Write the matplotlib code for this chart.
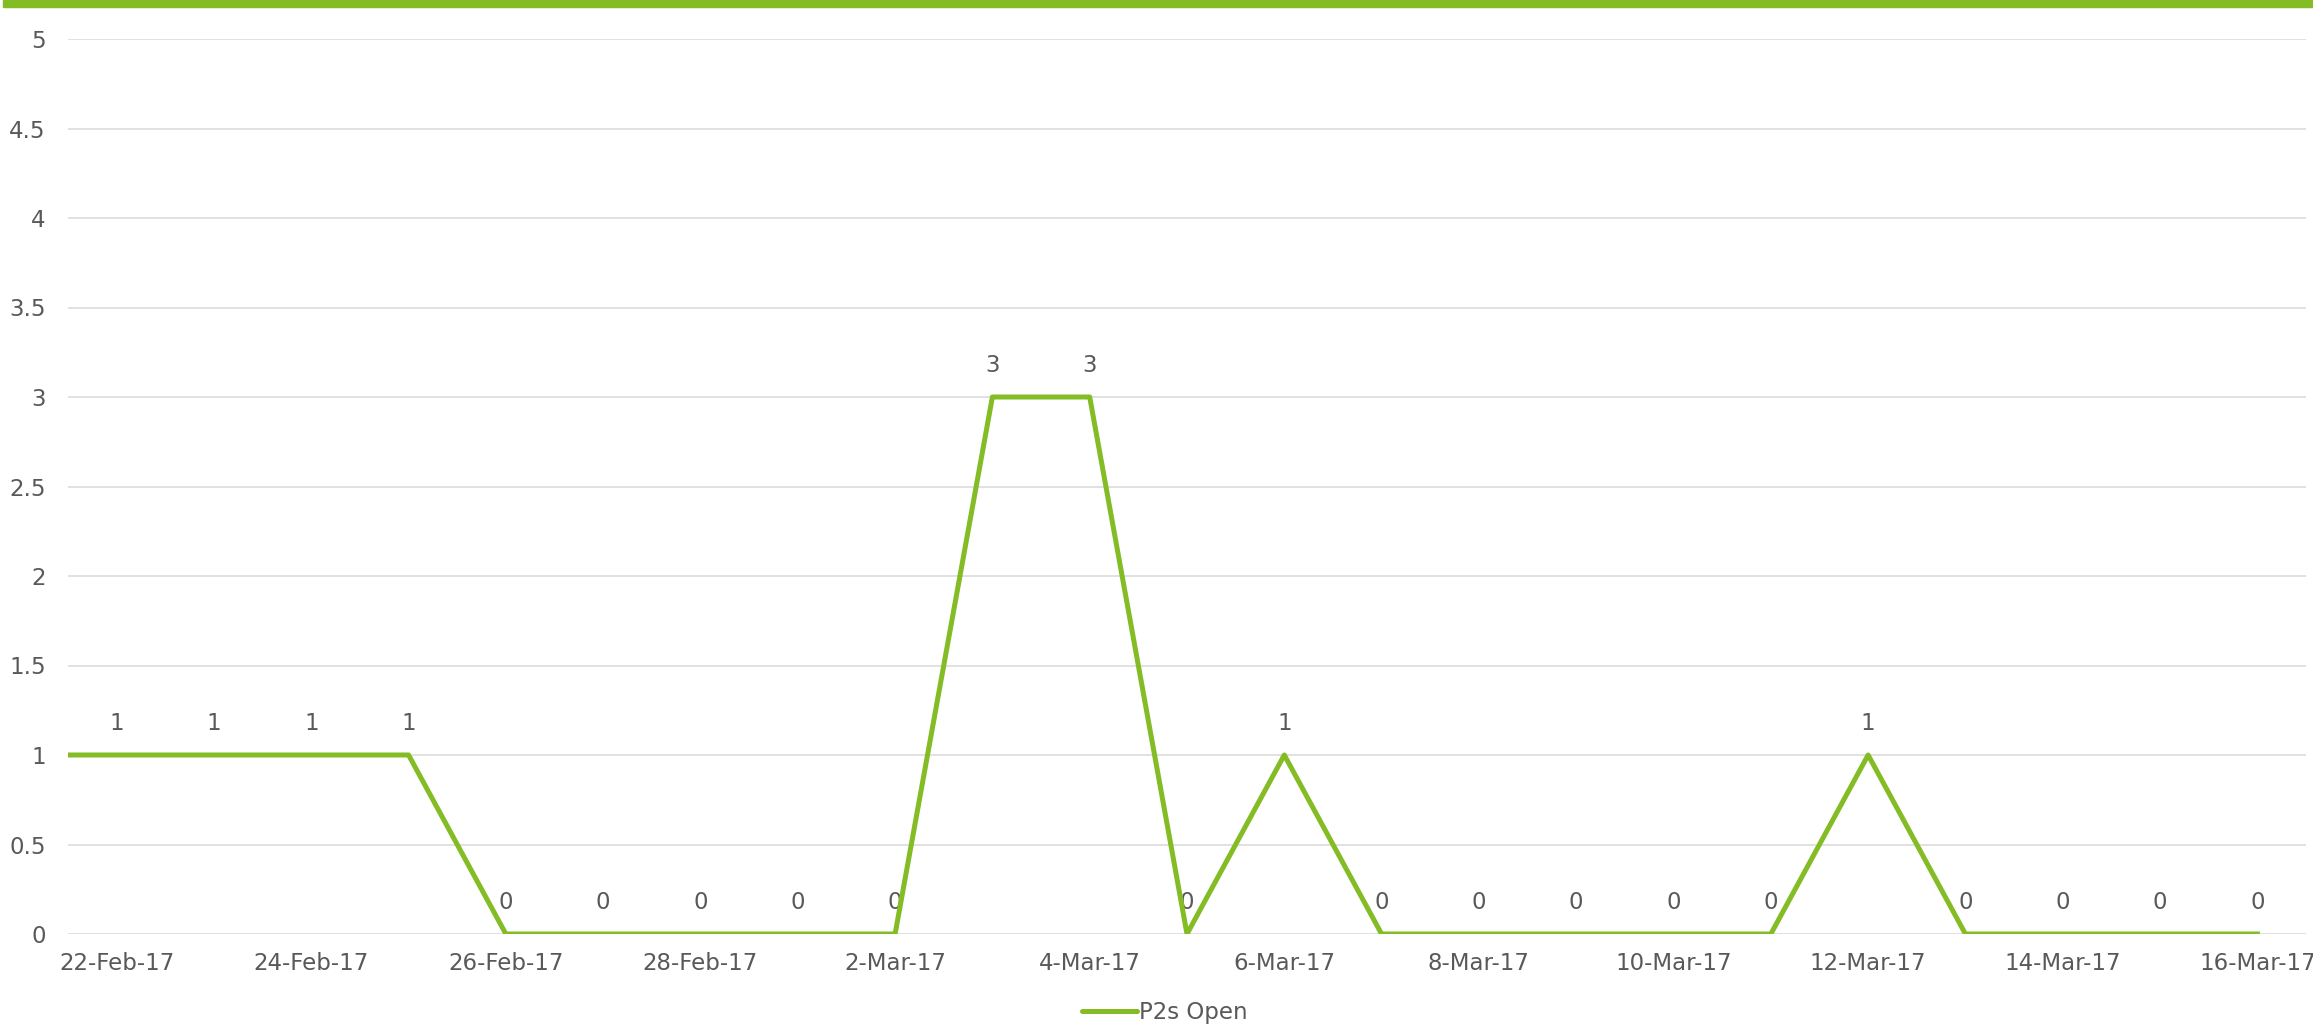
import datetime as dt
import matplotlib
matplotlib.use("Agg")
import matplotlib.pyplot as plt
import matplotlib.dates as mdates
from matplotlib.patches import Rectangle

# data: P2s open per day (first point sits just left of the visible axis)
dates = [dt.date(2017, 2, 21) + dt.timedelta(days=i) for i in range(24)]
p2s_open = [1, 1, 1, 1, 1, 0, 0, 0, 0, 0, 3, 3, 0, 1, 0, 0, 0, 0, 0, 1, 0, 0, 0, 0]
series_name = "P2s Open"

green = "#84BC25"
grey_txt = "#595959"
grid_col = "#D9D9D9"
fs = 16.5

fig = plt.figure(figsize=(23.13, 10.31), dpi=100)
ax = fig.add_axes([68 / 2313, (1031 - 934) / 1031, (2306 - 68) / 2313, (934 - 39) / 1031])

ax.plot(dates, p2s_open, color=green, lw=3.6, label=series_name,
        solid_joinstyle="round", zorder=3)

# data labels above each visible point (line is drawn over them)
for d, v in zip(dates, p2s_open):
    ax.annotate(str(v), (d, v), xytext=(0, 23), textcoords="offset points",
                ha="center", va="center", fontsize=fs, color=grey_txt, zorder=2)

ax.set_xlim(mdates.date2num(dt.date(2017, 2, 21)) + 0.5,
            mdates.date2num(dt.date(2017, 3, 16)) + 0.5)
ax.set_ylim(0, 5)
ax.set_yticks([0, 0.5, 1, 1.5, 2, 2.5, 3, 3.5, 4, 4.5, 5])
ax.set_yticklabels(["0", "0.5", "1", "1.5", "2", "2.5", "3", "3.5", "4", "4.5", "5"])

ax.set_xticks([dt.date(2017, 2, 22) + dt.timedelta(days=2 * i) for i in range(12)])
ax.xaxis.set_major_formatter(mdates.DateFormatter("%-d-%b-%y"))

ax.grid(axis="y", color=grid_col, lw=1.1)
ax.set_axisbelow(True)
for s in ax.spines.values():
    s.set_visible(False)
ax.tick_params(axis="both", length=0, labelsize=fs, labelcolor=grey_txt)
ax.tick_params(axis="x", pad=13)
ax.tick_params(axis="y", pad=16)

leg = fig.legend(loc="center", bbox_to_anchor=(1165 / 2313, 1 - 1013 / 1031), frameon=False,
                 fontsize=fs, handlelength=2.4, handletextpad=0.1)
for t in leg.get_texts():
    t.set_color(grey_txt)
for h in leg.get_lines():
    h.set_solid_capstyle("round")

# green band across the top
fig.patches.append(Rectangle((3 / 2313, 1 - 7 / 1031), 1, 7 / 1031, transform=fig.transFigure,
                             color=green, zorder=0))

fig.savefig("out.png", dpi=100)
